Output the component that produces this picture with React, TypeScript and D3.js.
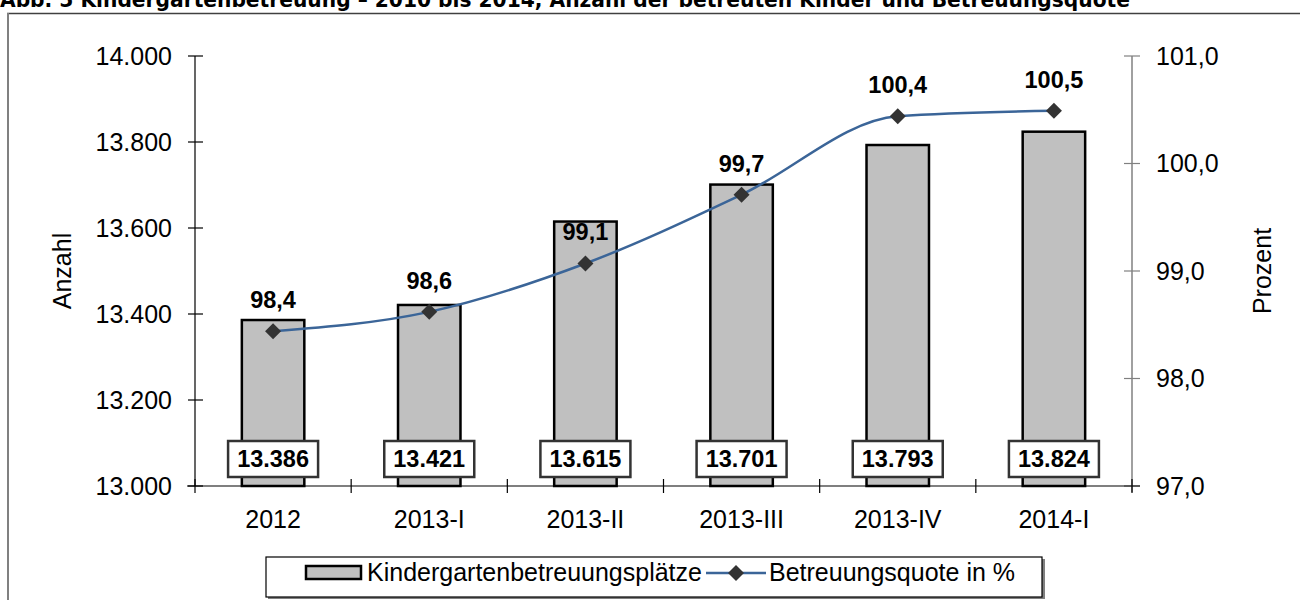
import React from "react";
import * as d3 from "d3";

const categories = ["2012", "2013-I", "2013-II", "2013-III", "2013-IV", "2014-I"];
const places = [13386, 13421, 13615, 13701, 13793, 13824];
const quota = [98.44, 98.62, 99.07, 99.71, 100.44, 100.49];
const quotaLabels = ["98,4", "98,6", "99,1", "99,7", "100,4", "100,5"];
const leftTicks = [13000, 13200, 13400, 13600, 13800, 14000];
const rightTicks = [97, 98, 99, 100, 101];
const title = "Abb. 5 Kindergartenbetreuung – 2010 bis 2014, Anzahl der betreuten Kinder und Betreuungsquote";

const W = 1300, H = 600;
const left = 195, right = 1132, top = 56, bottom = 486;
const FONT = "'Liberation Sans', Arial, sans-serif";

export default function App() {
  const x = d3.scaleBand<string>().domain(categories).range([left, right]).padding(0);
  const yL = d3.scaleLinear().domain([13000, 14000]).range([bottom, top]);
  const yR = d3.scaleLinear().domain([97, 101]).range([bottom, top]);
  const bw = x.bandwidth() * 0.4;
  const cx = (c: string) => (x(c) as number) + x.bandwidth() / 2;
  const fmtL = (v: number) => d3.format(",")(v).replace(/,/g, ".");
  const fmtR = (v: number) => v.toFixed(1).replace(".", ",");
  const line = d3
    .line<number>()
    .x((_, i) => cx(categories[i]))
    .y((d) => yR(d))
    .curve(d3.curveMonotoneX);
  const boundaries = [...categories.map((c) => x(c) as number), right];

  return (
    <svg width={W} height={H} style={{ position: "absolute", left: 0, top: 0, background: "#fff" }} fontFamily={FONT}>
      <text x={0} y={7} fontSize={22} fontWeight="bold" fill="#000" textLength={1130} lengthAdjust="spacingAndGlyphs" fontFamily="'DejaVu Sans Condensed', 'Liberation Sans', sans-serif">
        {title}
      </text>
      {/* frame */}
      <line x1={7} y1={13.5} x2={W} y2={13.5} stroke="#404040" strokeWidth={1.5} />
      <line x1={8} y1={13} x2={8} y2={H} stroke="#808080" strokeWidth={2} />

      {/* bars */}
      {places.map((v, i) => (
        <rect key={"b" + i} x={cx(categories[i]) - bw / 2} y={yL(v)} width={bw} height={bottom - yL(v)}
          fill="#c0c0c0" stroke="#000" strokeWidth={2.5} />
      ))}

      {/* left axis */}
      <line x1={left} y1={top} x2={left} y2={bottom} stroke="#000" strokeWidth={1.2} />
      {leftTicks.map((t) => (
        <g key={"lt" + t}>
          <line x1={left - 7} x2={left + 8} y1={yL(t)} y2={yL(t)} stroke="#000" strokeWidth={1.2} />
          <text x={172} y={yL(t)} dy="0.35em" textAnchor="end" fontSize={25} fill="#000">{fmtL(t)}</text>
        </g>
      ))}
      {/* right axis */}
      <line x1={right} y1={top} x2={right} y2={bottom + 6} stroke="#808080" strokeWidth={1.5} />
      {rightTicks.map((t) => (
        <g key={"rt" + t}>
          <line x1={right - 8} x2={right + 8} y1={yR(t)} y2={yR(t)} stroke="#808080" strokeWidth={1.2} />
          <text x={1156} y={yR(t)} dy="0.35em" textAnchor="start" fontSize={25} fill="#000">{fmtR(t)}</text>
        </g>
      ))}
      {/* x axis */}
      <line x1={left - 8} x2={right + 8} y1={bottom} y2={bottom} stroke="#000" strokeWidth={1.2} />
      {boundaries.map((b, i) => (
        <line key={"xt" + i} x1={b} x2={b} y1={bottom - 7} y2={bottom + 7} stroke="#000" strokeWidth={1.2} />
      ))}
      {categories.map((c) => (
        <text key={"xl" + c} x={cx(c)} y={528} textAnchor="middle" fontSize={25} fill="#000">{c}</text>
      ))}

      {/* axis titles */}
      <text transform={`translate(71,${(top + bottom) / 2}) rotate(-90)`} textAnchor="middle" fontSize={25} fill="#000">Anzahl</text>
      <text transform={`translate(1271,${(top + bottom) / 2}) rotate(-90)`} textAnchor="middle" fontSize={25} fill="#000">Prozent</text>

      {/* value boxes */}
      {places.map((v, i) => (
        <g key={"vb" + i}>
          <rect x={cx(categories[i]) - 45} y={441} width={90} height={36} fill="#fff" stroke="#333" strokeWidth={2.5} />
          <text x={cx(categories[i])} y={459} dy="0.36em" textAnchor="middle" fontSize={23.5} fontWeight="bold" fill="#000">{fmtL(v)}</text>
        </g>
      ))}

      {/* line */}
      <path d={line(quota) as string} fill="none" stroke="#3b6598" strokeWidth={2.5} />
      {quota.map((v, i) => {
        const px = cx(categories[i]), py = yR(v);
        return (
          <g key={"m" + i}>
            <path d={`M${px},${py - 8}L${px + 8},${py}L${px},${py + 8}L${px - 8},${py}Z`} fill="#333" />
            <text x={px} y={py - 23} textAnchor="middle" fontSize={23.5} fontWeight="bold" fill="#000">{quotaLabels[i]}</text>
          </g>
        );
      })}

      {/* legend */}
      <rect x={268} y={559} width={777} height={40} fill="#808080" />
      <rect x={266} y={557} width={776} height={40} fill="#fff" stroke="#000" strokeWidth={1.2} />
      <rect x={306} y={566} width={55} height={13} fill="#c0c0c0" stroke="#000" strokeWidth={2.5} />
      <text x={367} y={581} fontSize={25} fill="#000">Kindergartenbetreuungsplätze</text>
      <line x1={706} x2={766} y1={573} y2={573} stroke="#3b6598" strokeWidth={2.5} />
      <path d="M736,565L744,573L736,581L728,573Z" fill="#333" />
      <text x={769} y={581} fontSize={25} fill="#000">Betreuungsquote in %</text>
    </svg>
  );
}
